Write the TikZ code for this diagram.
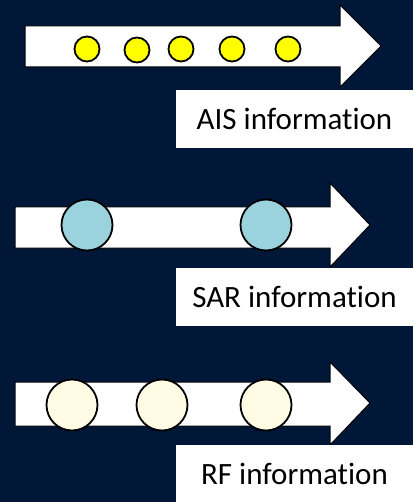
\documentclass[tikz,border=0pt]{standalone}
\usepackage{fontspec}
\setmainfont{Carlito}[Ligatures=NoCommon]
\definecolor{navy}{RGB}{1,23,56}
\definecolor{aisYellow}{RGB}{255,255,0}
\definecolor{sarBlue}{RGB}{154,211,222}
\definecolor{rfCream}{RGB}{255,251,228}
\begin{document}
\begin{tikzpicture}
        [x=1pt, y=-1pt,
        flow/.style={draw=black, fill=white, line width=1pt, line join=miter},
        dotAIS/.style={circle, draw, line width=1.8pt, minimum size=25pt, inner sep=0pt, fill=aisYellow},
        dotSAR/.style={circle, draw, line width=1.8pt, minimum size=51pt, inner sep=0pt, fill=sarBlue},
        dotRF/.style={circle, draw, line width=1.8pt, minimum size=51pt, inner sep=0pt, fill=rfCream},
        label/.style={fill=white, minimum width=237pt, minimum height=58pt, inner sep=0pt, font=\fontsize{31}{31}\selectfont}]
        \fill[navy] (0,0) rectangle (413,502);
        \useasboundingbox (0,0) rectangle (413,502);

        % arrows
        \draw[flow] (25,26) -- (340,26) -- (340,5) -- (381,46) -- (340,87) -- (340,67) -- (25,67) -- cycle;
        \draw[flow] (15,207) -- (330,207) -- (330,183) -- (370,225) -- (330,267) -- (330,248) -- (15,248) -- cycle;
        \draw[flow] (15,382) -- (330,382) -- (330,362) -- (370,403) -- (330,445) -- (330,426) -- (15,426) -- cycle;

        % AIS
        \node[dotAIS] (A1) at (87,49) {};
        \node[dotAIS] (A2) at (137,50) {};
        \node[dotAIS] (A3) at (181,49) {};
        \node[dotAIS] (A4) at (232,49) {};
        \node[dotAIS] (A5) at (288,49) {};
        \node[label] (AIS) at (294.5,119) {AIS information};

        % SAR
        \node[dotSAR] (S1) at (87,225) {};
        \node[dotSAR] (S2) at (266,225) {};
        \node[label] (SAR) at (294.5,296.5) {SAR information};

        % RF
        \node[dotRF] (R1) at (72,405) {};
        \node[dotRF] (R2) at (162,405) {};
        \node[dotRF] (R3) at (266,405) {};
        \node[label] (RF) at (294.5,473.5) {RF information};
    \end{tikzpicture}
\end{document}
